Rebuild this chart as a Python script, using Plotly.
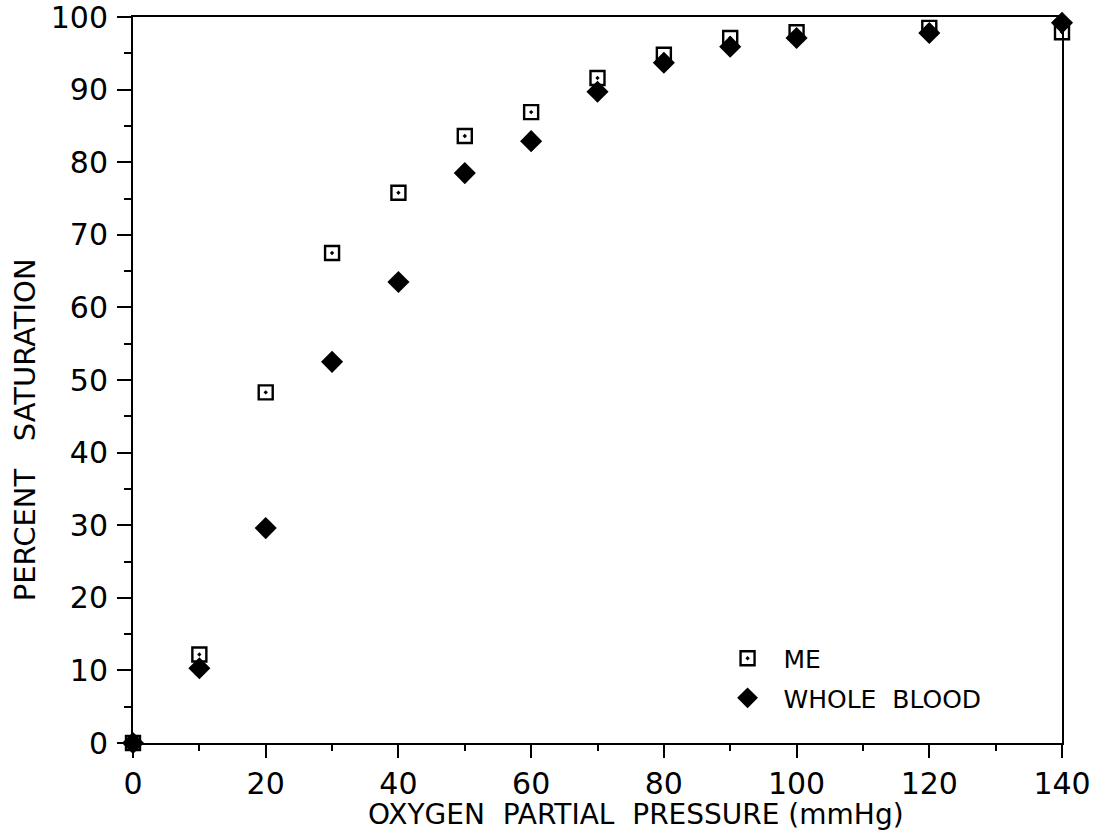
import plotly.graph_objects as go

pressure = [0, 10, 20, 30, 40, 50, 60, 70, 80, 90, 100, 120, 140]
me_sat = [0, 12.2, 48.3, 67.5, 75.8, 83.6, 86.9, 91.6, 94.8, 97.1, 97.9, 98.5, 97.9]
wb_sat = [0, 10.3, 29.6, 52.5, 63.5, 78.5, 82.9, 89.7, 93.7, 95.9, 97.1, 97.8, 99.2]

x_ticks = [0, 20, 40, 60, 80, 100, 120, 140]
y_ticks = [0, 10, 20, 30, 40, 50, 60, 70, 80, 90, 100]

x_title = "OXYGEN\u00a0\u00a0PARTIAL\u00a0\u00a0PRESSURE\u00a0(mmHg)"
y_title = "PERCENT\u00a0\u00a0\u00a0SATURATION"

FONT = "DejaVu Sans"

fig = go.Figure()
fig.add_trace(go.Scatter(
    x=pressure, y=me_sat, mode="markers", name="\u00a0\u00a0ME", legendgroup="me",
    marker=dict(symbol="square-open-dot", size=14, color="black",
                line=dict(width=2.4, color="black")),
    cliponaxis=False,
))
fig.add_trace(go.Scatter(
    x=pressure, y=wb_sat, mode="markers", name="\u00a0\u00a0WHOLE\u00a0\u00a0BLOOD", legendgroup="wb",
    marker=dict(symbol="diamond", size=17, color="black",
                line=dict(width=0)),
    cliponaxis=False,
))

fig.update_layout(
    width=1093, height=835,
    margin=dict(l=133, r=31, t=17, b=92),
    paper_bgcolor="white", plot_bgcolor="white",
    font=dict(family=FONT, color="black"),
    showlegend=True,
    legend=dict(x=0.64, y=0.148, xanchor="left", yanchor="top",
                font=dict(size=25, family=FONT, color="black"),
                bgcolor="rgba(0,0,0,0)", itemsizing="trace", tracegroupgap=4),
    xaxis=dict(
        range=[0, 140], tickvals=x_ticks, ticktext=[str(v) for v in x_ticks],
        showgrid=False, zeroline=False, automargin=False,
        showline=True, linecolor="black", linewidth=2, mirror=True,
        ticks="outside", ticklen=13, tickwidth=2, tickcolor="black",
        ticklabelstandoff=0, ticklabeloverflow="allow",
        minor=dict(ticks="outside", ticklen=6, tickwidth=2, tickcolor="black", dtick=10, showgrid=False),
        tickfont=dict(size=30, family=FONT),
    ),
    yaxis=dict(
        range=[0, 100], tickvals=y_ticks, ticktext=[str(v) for v in y_ticks],
        showgrid=False, zeroline=False, automargin=False,
        showline=True, linecolor="black", linewidth=2, mirror=True,
        ticks="outside", ticklen=14, tickwidth=2, tickcolor="black",
        ticklabelstandoff=3, ticklabeloverflow="allow",
        minor=dict(ticks="outside", ticklen=7, tickwidth=2, tickcolor="black", dtick=5, showgrid=False),
        tickfont=dict(size=30, family=FONT),
    ),
    annotations=[
        dict(text=x_title, xref="paper", yref="paper", x=0.5414, y=-0.098,
             xanchor="center", yanchor="middle", showarrow=False,
             font=dict(size=28, family=FONT, color="black")),
        dict(text=y_title, xref="paper", yref="paper", x=-0.116, y=0.431,
             xanchor="center", yanchor="middle", showarrow=False, textangle=-90,
             font=dict(size=29, family=FONT, color="black")),
    ],
)

# remove the default 8px page margin so the figure fills the window exactly
fig.write_html("out.html", config={"displayModeBar": False},
               post_script="document.body.style.margin='0';")
